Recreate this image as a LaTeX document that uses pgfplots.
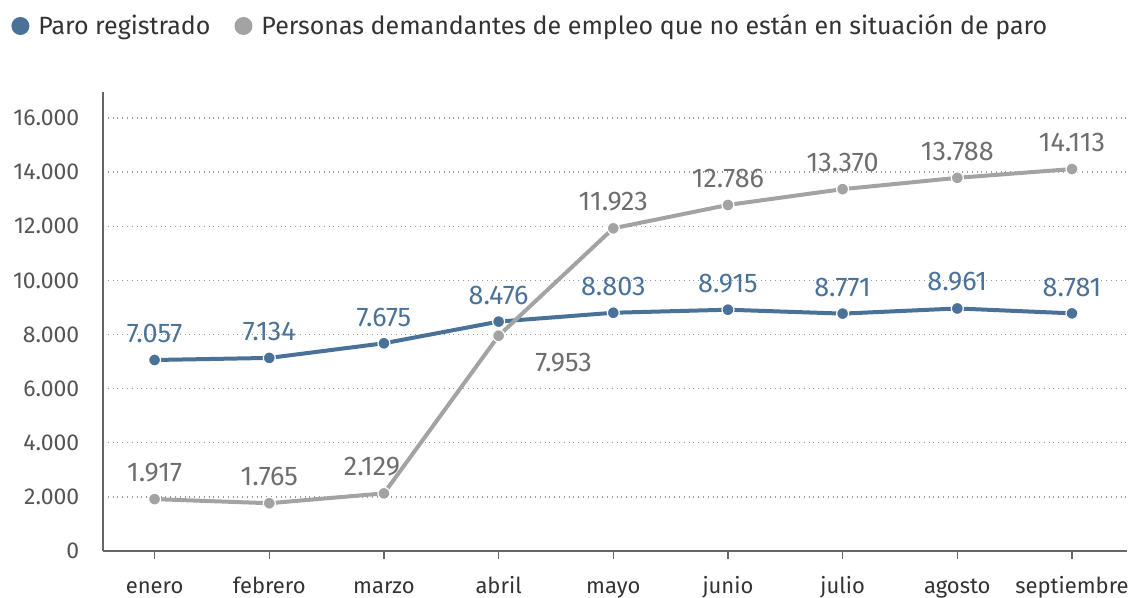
\documentclass[border=0pt]{standalone}
\usepackage{pgfplots}
\pgfplotsset{compat=1.18}
\usepackage{fontspec}
\setmainfont{Fira Sans}
\definecolor{cblue}{HTML}{4A7299}
\definecolor{cgrey}{HTML}{A3A3A3}
\definecolor{cgreylab}{HTML}{6E6E6E}
\definecolor{ctick}{HTML}{555555}
\definecolor{caxis}{HTML}{666666}
\begin{document}
\fontsize{11pt}{13pt}\selectfont
\begin{tikzpicture}
\useasboundingbox (-51.5pt,-23.5pt) rectangle (515.5pt,275.5pt);
\begin{axis}[
  scale only axis,
  width=512pt, height=229.5pt,
  xmin=-0.45, xmax=8.48,
  ymin=0, ymax=16960,
  axis x line*=bottom, axis y line*=left,
  axis line style={-, caxis, line width=0.7pt},
  xtick={0,...,8},
  xticklabels={enero,febrero,marzo,abril,mayo,junio,julio,agosto,septiembre},
  xtick style={caxis, line width=0.7pt},
  tick align=outside,
  major tick length=4pt,
  ytick={0,2000,...,16000},
  scaled y ticks=false,
  ytick style={draw=none},
  ymajorgrids,
  grid style={dotted, line width=0.7pt, color=gray!80},
  yticklabel style={font=\fontsize{11.5pt}{13pt}\selectfont, color=ctick, xshift=-4pt,
    /pgf/number format/fixed, /pgf/number format/precision=0},
  xticklabel style={font=\fontsize{11pt}{13pt}\selectfont, color=black!80, anchor=base, yshift=-17.5pt},
  /pgf/number format/.cd, 1000 sep={.}, use comma, assume math mode=true,
  /pgfplots/.cd,
  legend columns=2,
  legend style={draw=none, fill=none, at={(0,1)}, anchor=west, xshift=-49pt, yshift=33pt,
    font=\fontsize{12.5pt}{14pt}\selectfont, text=black!80,
    /tikz/every odd column/.append style={column sep=2.5pt},
    /tikz/every even column/.append style={column sep=10pt}},
  legend image code/.code={\fill[#1, draw=none] (0.15cm,0cm) circle (4.5pt);},
  clip=false,
  nodes near coords={\pgfmathprintnumber{\pgfplotspointmeta}},
  every node near coord/.append style={font=\fontsize{13.5pt}{15pt}\selectfont, anchor=south, yshift=4.5pt},
]
\addplot[cblue, line width=2pt, mark=*, mark size=3pt, mark options={draw=white, line width=0.6pt, fill=cblue},
  every node near coord/.append style={text=cblue}]
  coordinates {(0,7057) (1,7134) (2,7675) (3,8476) (4,8803) (5,8915) (6,8771) (7,8961) (8,8781)};
\addlegendentry{Paro registrado}
\addplot[cgrey, line width=2pt, mark=*, mark size=3pt, mark options={draw=white, line width=0.6pt, fill=cgrey},
  every node near coord/.append style={text=cgreylab},
  coordinate style/.condition={\coordindex==2}{xshift=-6pt},
  coordinate style/.condition={\coordindex==3}{anchor=center, xshift=32.5pt, yshift=-26.5pt}]
  coordinates {(0,1917) (1,1765) (2,2129) (3,7953) (4,11923) (5,12786) (6,13370) (7,13788) (8,14113)};
\addlegendentry{Personas demandantes de empleo que no están en situación de paro}
\end{axis}
\end{tikzpicture}
\end{document}
